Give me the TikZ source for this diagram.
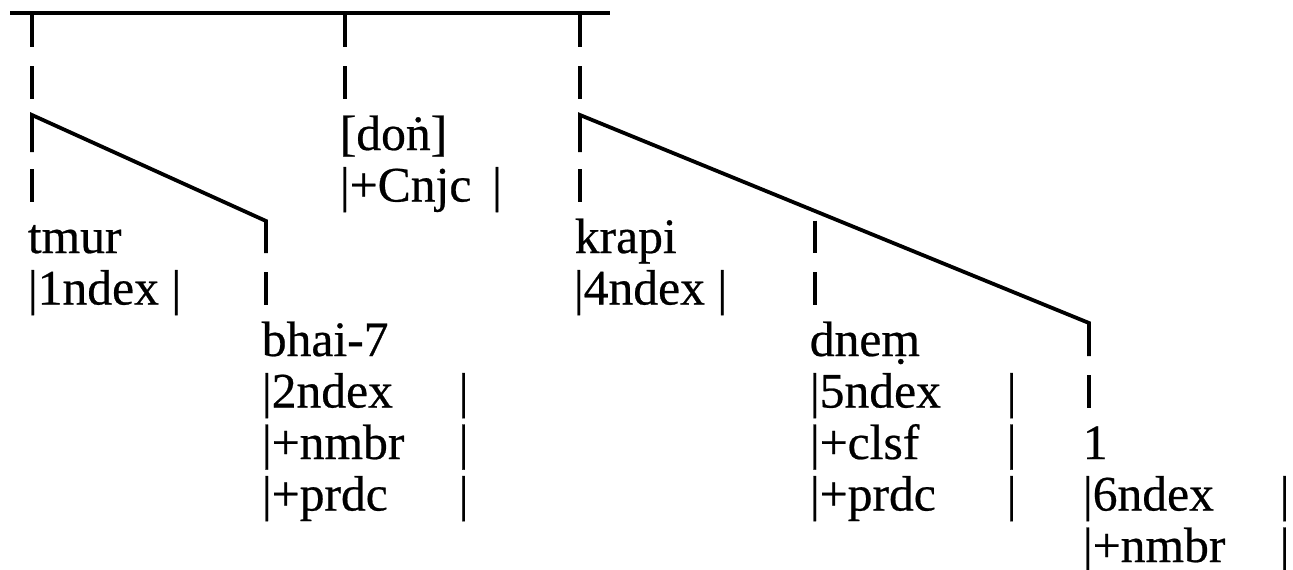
\documentclass[tikz,border=0pt]{standalone}
\usepackage{fontspec}
\setmainfont{Liberation Serif}[UprightFeatures={FakeBold=0.5}]

% feature line with its closing bar at a fixed tab
\newcommand{\fld}[1]{\makebox[49.2pt][l]{|#1}|}

\begin{document}
\begin{tikzpicture}[
  x=0.25pt, y=-0.25pt,
  every node/.style={font=\fontsize{12.4}{14.9}\selectfont},
  word/.style={anchor=base west, inner sep=0pt},
  stem/.style={line width=1pt, dash pattern=on 8.125pt off 4.75pt},
  arm/.style={line width=0.95pt},
  crossbar/.style={line width=0.9pt},
]
\useasboundingbox (0,0) rectangle (1293,569);
% top bar and its three branches
\coordinate (bar-w) at (10,13);
\coordinate (bar-e) at (610,13);
\coordinate (a-top) at (32,14.5);
\coordinate (b-top) at (345,14.5);
\coordinate (c-top) at (580,14.5);
\draw[crossbar] (bar-w) -- (bar-e);
% knees and feet of the sloping arms
\coordinate (a-knee) at (32,152);
\coordinate (a-bend) at (32,115);
\coordinate (a-end) at (266,221);
\coordinate (a-foot) at (266,253);
\coordinate (c-knee) at (580,152);
\coordinate (c-bend) at (580,115);
\coordinate (c-end) at (1089,323);
\coordinate (c-foot) at (1089,356);
% words
\node[word] (tmur) at (27,253) {tmur};
\node[word] (tmur-f) at (27,304.5) {|1ndex |};
\node[word] (don) at (339,150) {[do\.n]};
\node[word] (don-f) at (339,201.5) {|+Cnjc \,|};
\node[word] (krapi) at (574,253) {krapi};
\node[word] (krapi-f) at (573,304.5) {|4ndex |};
\node[word] (bhai) at (261,356) {bhai-7};
\node[word] (bhai-f1) at (261,407.5) {\fld{2ndex}};
\node[word] (bhai-f2) at (261,459) {\fld{+nmbr}};
\node[word] (bhai-f3) at (261,510.5) {\fld{+prdc}};
\node[word] (dnem) at (809,356) {dne\d{m}};
\node[word] (dnem-f1) at (809,407.5) {\fld{5ndex}};
\node[word] (dnem-f2) at (809,459) {\fld{+clsf}};
\node[word] (dnem-f3) at (809,510.5) {\fld{+prdc}};
\node[word] (one) at (1082,459) {1};
\node[word] (one-f1) at (1082,510.5) {\fld{6ndex}};
\node[word] (one-f2) at (1082,562) {\fld{+nmbr}};
% broken stems
\draw[stem] (a-top) -- (a-top |- 0,201.5);
\draw[stem] (b-top) -- (b-top |- 0,98.5);
\draw[stem] (c-top) -- (c-top |- 0,201.5);
\draw[stem] (266,220.5) -- (266,304.5);
\draw[stem] (815,220.5) -- (815,304.5);
\draw[stem] (1089,323.5) -- (1089,407.5);
% sloping arms
\draw[arm] (a-knee) -- (a-bend) -- (a-end) -- (a-foot);
\draw[arm] (c-knee) -- (c-bend) -- (c-end) -- (c-foot);
\end{tikzpicture}
\end{document}
